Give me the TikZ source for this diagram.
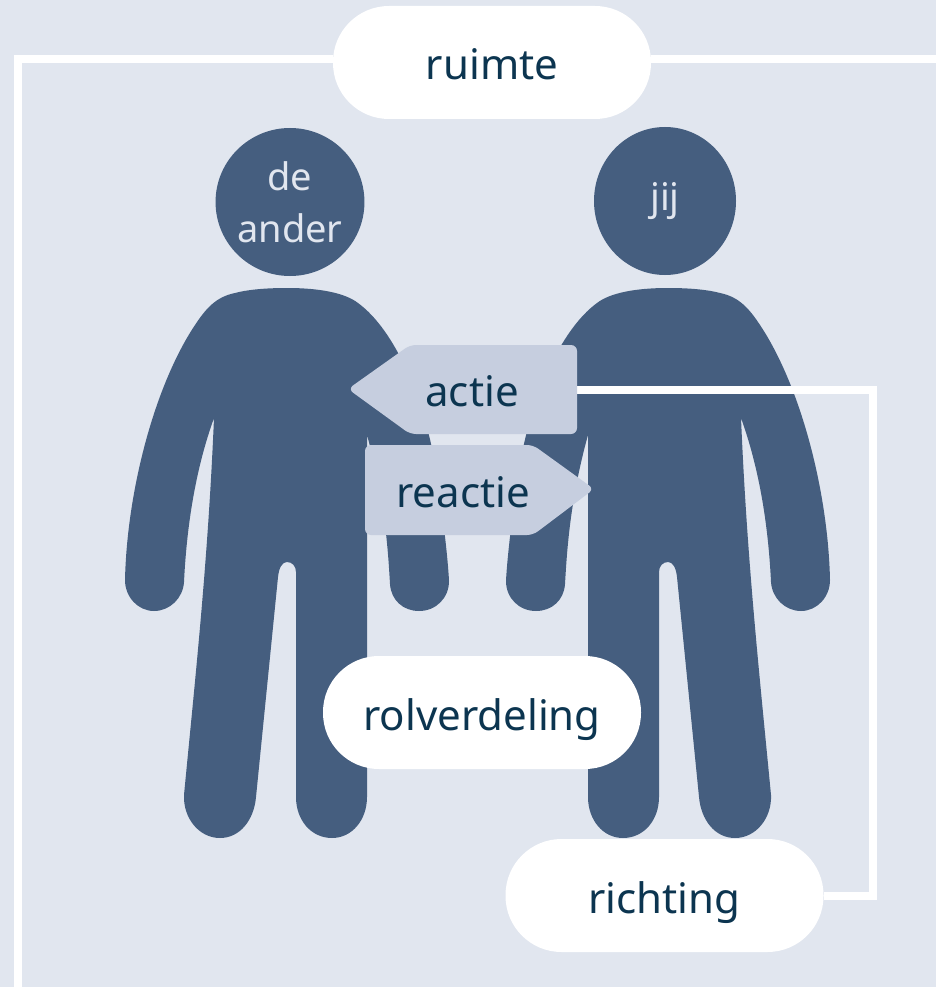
\documentclass[tikz,border=0pt]{standalone}
\usetikzlibrary{shapes.geometric}
\usepackage{fontspec}
\setmainfont{Noto Sans}
\definecolor{bgc}{HTML}{E1E6EF}
\definecolor{figc}{HTML}{455E7F}
\definecolor{tagc}{HTML}{C6CEDF}
\definecolor{inkc}{HTML}{0C3550}
\newcommand{\figpath}{(287,288)
 .. controls (320,288) and (345,293) .. (358,303)
 .. controls (395,330) and (425,400) .. (436,470)
 .. controls (443,515) and (448,560) .. (449,581)
 .. controls (449,598) and (436,611) .. (419,611)
 .. controls (403,611) and (391,600) .. (390,584)
 .. controls (388,550) and (385,500) .. (367,435)
 -- (367,797)
 .. controls (367,820) and (352,838) .. (332,838)
 .. controls (311,838) and (296,820) .. (296,797)
 -- (296,572)
 .. controls (296,566) and (292,562) .. (287,562)
 .. controls (282,562) and (279,568) .. (278,577)
 -- (256,797)
 .. controls (254,820) and (240,838) .. (220,838)
 .. controls (199,838) and (183,818) .. (184,795)
 .. controls (196,670) and (208,560) .. (214,418)
 .. controls (197,465) and (187,520) .. (184,582)
 .. controls (183,598) and (170,611) .. (154,611)
 .. controls (138,611) and (125,597) .. (125,580)
 .. controls (127,490) and (155,385) .. (195,325)
 .. controls (205,310) and (215,297) .. (235,293)
 .. controls (250,289) and (270,288) .. (287,288) -- cycle}
\tikzset{
 x=1pt,y=-1pt,
 pill/.style={fill=white,rounded corners=56pt,minimum width=318pt,inner sep=0pt,text=inkc,font=\fontsize{42}{42}\selectfont,text height=74pt,text depth=39pt},
 figfill/.style={fill=figc},
 tagfill/.style={fill=tagc,rounded corners=6pt},
 tagtext/.style={inner sep=0pt,text=inkc,font=\fontsize{42}{42}\selectfont,anchor=base},
 headnode/.style={ellipse,fill=figc,text=bgc,inner sep=0pt,font=\fontsize{38}{52}\selectfont,align=center,minimum width=142pt,minimum height=148pt},
 wire/.style={draw=white,line width=8pt,line join=miter},
}
\begin{document}
\begin{tikzpicture}
\useasboundingbox (0,0) rectangle (936,987);
\fill[bgc] (0,0) rectangle (936,987);
% figures
\fill[figfill] \figpath;
\begin{scope}[shift={(955,0)},xscale=-1]
\fill[figfill] \figpath;
\end{scope}
\node[headnode] (ander) at (290,202) {de\\ander};
\node[headnode] (jij) at (665,201) {jij};
% connectors
\coordinate (tl) at (18,59);
\coordinate (bl) at (18,987);
\coordinate (tr) at (936,59);
\coordinate (c1) at (873,390);
\coordinate (c2) at (873,895.5);
\coordinate (aright) at (577,390);
% pills
\node[pill] (ruimte) at (492,62.5) {ruimte};
\node[pill] (rolv) at (482,712.5) {rolverdeling};
\node[pill] (richting) at (664.5,895.5) {richting};
\draw[wire] (ruimte.west |- tl) -- (tl) -- (bl);
\draw[wire] (ruimte.east |- tr) -- (tr);
\draw[wire] (aright) -- (c1) -- (c2) -- (richting.east);
% tags
\fill[tagfill] (577,345) -- (577,434) -- (410,434) -- (348,389) -- (410,345) -- cycle;
\fill[tagfill] (365,445) -- (533,445) -- (594,489) -- (533,535) -- (365,535) -- cycle;
\node[tagtext] (actie) at (472,406) {actie};
\node[tagtext] (reactie) at (463,507) {reactie};
\end{tikzpicture}
\end{document}
